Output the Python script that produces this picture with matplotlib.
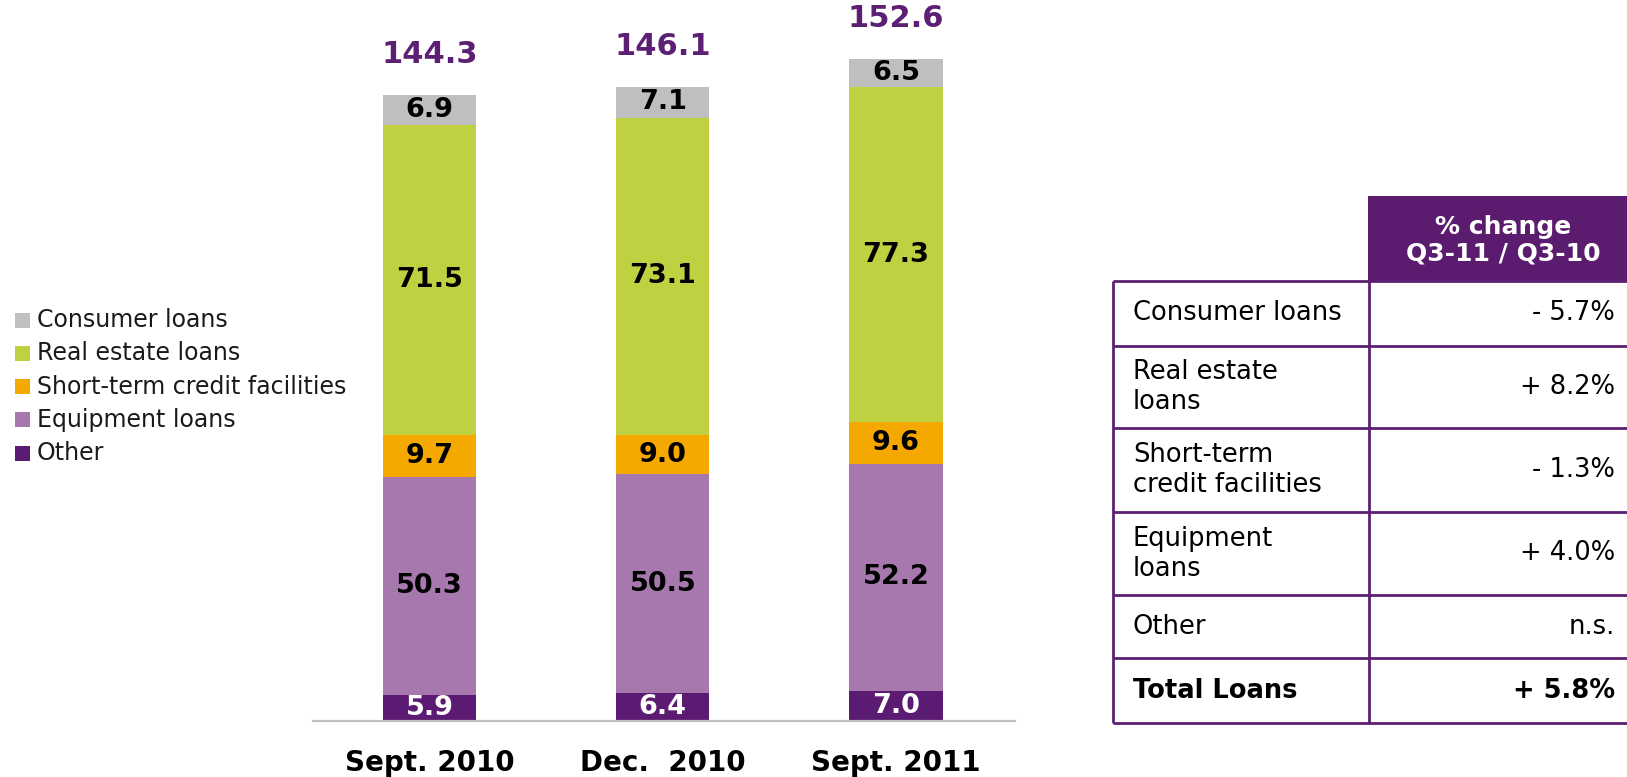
import numpy as np
import matplotlib.pyplot as plt
from matplotlib.patches import Rectangle

# loan outstandings by period (bn), stacked bottom to top
periods = ['Sept. 2010', 'Dec.  2010', 'Sept. 2011']
other = [5.9, 6.4, 7.0]
equipment = [50.3, 50.5, 52.2]
short_term = [9.7, 9.0, 9.6]
real_estate = [71.5, 73.1, 77.3]
consumer = [6.9, 7.1, 6.5]
totals = [144.3, 146.1, 152.6]

segment_names = ['Other', 'Equipment loans', 'Short-term credit facilities',
                 'Real estate loans', 'Consumer loans']
segment_colors = ['#5C1B72', '#A678AE', '#F5A800', '#BFD141', '#BFBFBF']
label_colors = ['white', 'black', 'black', 'black', 'black']

# change table
table_rows = ['Consumer loans', 'Real estate\nloans', 'Short-term\ncredit facilities',
              'Equipment\nloans', 'Other', 'Total Loans']
table_changes = ['- 5.7%', '+ 8.2%', '- 1.3%', '+ 4.0%', 'n.s.', '+ 5.8%']
table_header = '% change\nQ3-11 / Q3-10'

purple = '#5C1F73'
W, H = 1627, 777

fig = plt.figure(figsize=(W / 100, H / 100), dpi=100)

# overlay in pixel coordinates for legend and table
lay = fig.add_axes([0, 0, 1, 1])
lay.set_xlim(0, W)
lay.set_ylim(H, 0)
lay.axis('off')

# bar chart
base_px, left_px, right_px = 721, 313, 1015
ax = fig.add_axes([left_px / W, 1 - base_px / H, (right_px - left_px) / W, base_px / H])
ax.set_ylim(0, base_px / 4.34)
ax.set_xlim(-0.5, 2.51)
x = np.arange(len(periods))
series = [other, equipment, short_term, real_estate, consumer]
bottom = np.zeros(len(periods))
for vals, col, tcol in zip(series, segment_colors, label_colors):
    vals = np.array(vals)
    ax.bar(x, vals, width=0.4, bottom=bottom, color=col, linewidth=0)
    for xi, b, v in zip(x, bottom, vals):
        ax.text(xi, b + v / 2, '%.1f' % v, ha='center', va='center',
                fontsize=19.5, fontweight='bold', color=tcol)
    bottom += vals

for xi, t in zip(x, totals):
    ax.annotate('%.1f' % t, (xi, t), xytext=(0, 29), textcoords='offset points',
                ha='center', va='center', fontsize=22, fontweight='bold', color=purple)
for xi, p in zip(x, periods):
    ax.annotate(p, (xi, 0), xytext=(0, -30), textcoords='offset points',
                ha='center', va='center', fontsize=20, fontweight='bold',
                color='black', annotation_clip=False)

for s in ['top', 'left', 'right']:
    ax.spines[s].set_visible(False)
ax.spines['bottom'].set_color('#BFBFBF')
ax.spines['bottom'].set_linewidth(1.6)
ax.set_xticks([])
ax.set_yticks([])
ax.patch.set_alpha(0)

# legend, top entry is the top of the stack
for i, k in enumerate(range(len(segment_names) - 1, -1, -1)):
    yc = 320 + i * 33.3
    lay.add_patch(Rectangle((15, yc - 7.5), 15, 15, color=segment_colors[k], lw=0))
    lay.text(37, yc, segment_names[k], ha='left', va='center', fontsize=17, color='#1A1A1A')

# table (runs off the right edge, so no closing border there)
t_left, t_mid = 1113, 1369
row_edges = [281, 346, 428, 512, 595, 658, 723]
lay.add_patch(Rectangle((t_mid - 1, 196), W - t_mid + 1, 86, color='#5B1C70', lw=0))
lay.text(1503, 240, table_header, ha='center', va='center',
         fontsize=18, fontweight='bold', color='white', linespacing=1.15)
for y in row_edges:
    lay.plot([t_left, W], [y, y], color=purple, lw=2, solid_capstyle='butt')
for xv in [t_left, t_mid]:
    lay.plot([xv, xv], [row_edges[0], row_edges[-1]], color=purple, lw=2,
             solid_capstyle='butt')
for i, (name, chg) in enumerate(zip(table_rows, table_changes)):
    yc = (row_edges[i] + row_edges[i + 1]) / 2
    bold = 'bold' if i == len(table_rows) - 1 else 'normal'
    lay.text(1133, yc, name, ha='left', va='center', fontsize=18.5,
             fontweight=bold, linespacing=1.2)
    lay.text(1615, yc, chg, ha='right', va='center', fontsize=18.5, fontweight=bold)

fig.savefig('out.png', dpi=100)
